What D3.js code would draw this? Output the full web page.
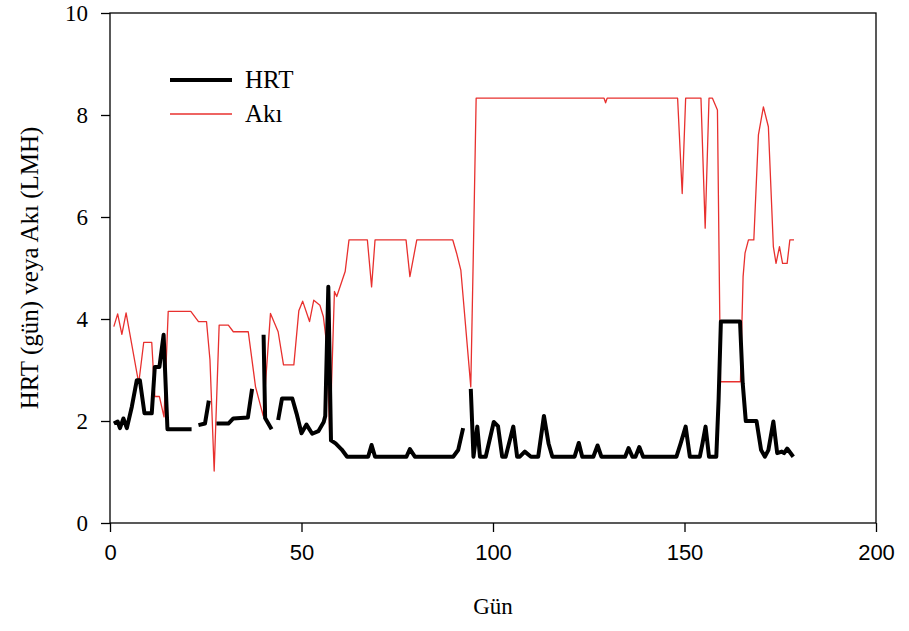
<!DOCTYPE html>
<html>
<head>
<meta charset="utf-8">
<script src="https://cdn.jsdelivr.net/npm/d3@7"></script>
<style>
  body { margin: 0; background: #fff; }
  svg { display: block; }
</style>
</head>
<body>
<div id="chart"></div>
<script>
// days and values (null = gap in the HRT record)
var hrtDays = [1.0, 2.0, 2.6, 3.5, 4.4, 5.7, 7.0, 7.8, 9.0, 10.9, 11.7, 12.9, 14.0, 15.0, 21.3, 22.2,
  23.1, 24.8, 25.8, 26.8, 27.8, 30.9, 32.2, 36.0, 37.1, 38.5, 40.1, 40.5, 42.2, 43.0,
  43.9, 44.9, 47.6, 48.7, 50.0, 51.3, 52.8, 54.4, 55.8, 56.2, 57.0, 57.7, 58.9, 60.5, 61.9,
  67.4, 68.3, 69.2, 77.4, 78.3, 79.6, 89.6, 90.9, 92.2, 93.2,
  94.2, 94.9, 95.9, 96.6, 98.1, 100.2, 101.3, 102.4, 103.3, 105.3, 106.3, 107.0, 108.3, 109.9,
  111.8, 113.3, 114.5, 115.5, 121.3, 122.4, 123.3, 126.2, 127.3, 128.3, 134.5, 135.4, 136.4,
  137.2, 138.2, 139.2, 147.9, 149.0, 150.3, 151.4, 154.0, 154.7, 155.5, 156.4, 158.3, 158.9,
  159.5, 164.5, 165.2, 166.0, 168.8, 170.0, 171.0, 171.9, 173.2, 174.2, 175.4, 176.0, 176.8, 178.4];
var hrtValues = [1.95, 1.99, 1.86, 2.05, 1.86, 2.28, 2.8, 2.8, 2.15, 2.15, 3.06, 3.06, 3.69, 1.84, 1.84, null,
  1.92, 1.95, 2.4, null, 1.95, 1.95, 2.05, 2.07, 2.63, null, 3.69, 2.06, 1.84, null,
  2.02, 2.44, 2.44, 2.15, 1.76, 1.93, 1.75, 1.8, 1.98, 2.1, 4.63, 1.62, 1.56, 1.44, 1.3,
  1.3, 1.53, 1.3, 1.3, 1.45, 1.3, 1.3, 1.43, 1.86, null,
  2.63, 1.3, 1.89, 1.3, 1.3, 1.98, 1.9, 1.3, 1.3, 1.89, 1.3, 1.3, 1.4, 1.3,
  1.3, 2.1, 1.56, 1.3, 1.3, 1.57, 1.3, 1.3, 1.52, 1.3, 1.3, 1.47, 1.3,
  1.3, 1.49, 1.3, 1.3, 1.56, 1.89, 1.3, 1.3, 1.56, 1.89, 1.3, 1.3, 2.41,
  3.95, 3.95, 2.74, 2.0, 2.0, 1.43, 1.3, 1.43, 1.99, 1.37, 1.4, 1.37, 1.46, 1.3];

var akiDays = [1.0, 2.0, 3.1, 4.2, 7.5, 8.8, 10.9, 11.7, 12.9, 14.1, 15.2, 21.1, 23.1, 25.2, 26.1,
  27.2, 28.5, 30.9, 32.2, 36.1, 38.0, 40.0, 41.9, 43.9, 45.3, 48.0, 49.3, 50.3, 52.1, 53.2,
  54.8, 55.7, 56.6, 57.4, 58.6, 59.2, 60.5, 61.4, 62.4, 67.2, 68.3, 69.2, 77.3, 78.3, 80.1,
  89.5, 90.5, 91.6, 94.2, 94.9, 95.6, 129.0, 129.4, 129.8, 148.2, 149.4, 150.3, 154.3, 155.4,
  156.4, 157.3, 158.6, 159.4, 164.6, 165.3, 165.8, 166.7, 168.1, 169.3, 170.6, 171.9, 173.2,
  173.9, 174.8, 175.6, 176.8, 177.5, 178.6];
var akiValues = [3.85, 4.1, 3.7, 4.12, 2.74, 3.54, 3.54, 2.48, 2.48, 2.08, 4.15, 4.15, 3.95, 3.95, 3.2,
  1.02, 3.88, 3.88, 3.75, 3.75, 2.67, 2.1, 4.11, 3.75, 3.1, 3.1, 4.16, 4.35, 3.95, 4.37,
  4.27, 4.05, 3.49, 1.65, 4.54, 4.44, 4.73, 4.93, 5.55, 5.55, 4.63, 5.55, 5.55, 4.83, 5.55,
  5.55, 5.29, 4.96, 2.67, 5.42, 8.33, 8.33, 8.24, 8.33, 8.33, 6.46, 8.33, 8.33, 5.78,
  8.33, 8.33, 8.1, 2.77, 2.77, 4.83, 5.29, 5.55, 5.55, 7.61, 8.16, 7.77, 5.42,
  5.09, 5.42, 5.09, 5.09, 5.55, 5.55];

var xTicks = [0, 50, 100, 150, 200];
var yTicks = [0, 2, 4, 6, 8, 10];

var serif = "'Liberation Serif', 'Times New Roman', serif";

var margin = {top: 13, right: 33, bottom: 108, left: 110},
    width = 909 - margin.left - margin.right,
    height = 631 - margin.top - margin.bottom;

var svg = d3.select("#chart")
            .append("svg")
            .attr("width", 909)
            .attr("height", 631);

var g = svg.append("g")
           .attr("transform", "translate(" + margin.left + "," + margin.top + ")");

var xScale = d3.scaleLinear().domain([0, 200]).range([0, width]),
    yScale = d3.scaleLinear().domain([0, 10]).range([height, 0]);

var hrt = hrtDays.map(function(d, i) { return {day: d, value: hrtValues[i]}; });
var aki = akiDays.map(function(d, i) { return {day: d, value: akiValues[i]}; });

var line = d3.line()
             .defined(function(d) { return d.value !== null; })
             .x(function(d) { return xScale(d.day); })
             .y(function(d) { return yScale(d.value); });

// frame
g.append("rect")
 .attr("width", width)
 .attr("height", height)
 .attr("fill", "none")
 .attr("stroke", "#000")
 .attr("stroke-width", 1.3);

var xAxis = g.append("g")
   .attr("transform", "translate(0," + height + ")")
   .call(d3.axisBottom(xScale).tickValues(xTicks).tickSize(9).tickPadding(12));
xAxis.selectAll("text")
   .style("font-family", "'Liberation Sans', Arial, sans-serif")
   .style("font-size", "22px")
   .attr("fill", "#000");

var yAxis = g.append("g")
   .call(d3.axisLeft(yScale).tickValues(yTicks).tickSize(9).tickPadding(13));
yAxis.selectAll("text")
   .style("font-family", serif)
   .style("font-size", "23px")
   .attr("fill", "#000");

svg.selectAll(".domain").remove();
svg.selectAll(".tick line").attr("stroke", "#000").attr("stroke-width", 1.3);

g.append("path")
 .datum(aki)
 .attr("fill", "none")
 .attr("stroke", "#e8302e")
 .attr("stroke-width", 1.3)
 .attr("stroke-linejoin", "round")
 .attr("d", line);

g.append("path")
 .datum(hrt)
 .attr("fill", "none")
 .attr("stroke", "#000")
 .attr("stroke-width", 4)
 .attr("stroke-linejoin", "round")
 .attr("d", line);

// legend
var legend = svg.append("g").attr("transform", "translate(170,80)");
legend.append("line").attr("x1", 0).attr("x2", 62).attr("y1", 0).attr("y2", 0)
      .attr("stroke", "#000").attr("stroke-width", 4);
legend.append("line").attr("x1", 0).attr("x2", 62).attr("y1", 34).attr("y2", 34)
      .attr("stroke", "#e8302e").attr("stroke-width", 1.3);
legend.selectAll("text")
      .data(["HRT", "Akı"])
      .enter().append("text")
      .attr("x", 75)
      .attr("y", function(d, i) { return i * 34 + 8; })
      .style("font-family", serif)
      .style("font-size", "25px")
      .text(function(d) { return d; });

// axis titles
svg.append("text")
   .attr("x", margin.left + width / 2)
   .attr("y", 614)
   .attr("text-anchor", "middle")
   .style("font-family", serif)
   .style("font-size", "23px")
   .text("Gün");

svg.append("text")
   .attr("transform", "translate(38," + (margin.top + height / 2) + ") rotate(-90)")
   .attr("text-anchor", "middle")
   .style("font-family", serif)
   .style("font-size", "25px")
   .text("HRT (gün) veya Akı (LMH)");
</script>
</body>
</html>
